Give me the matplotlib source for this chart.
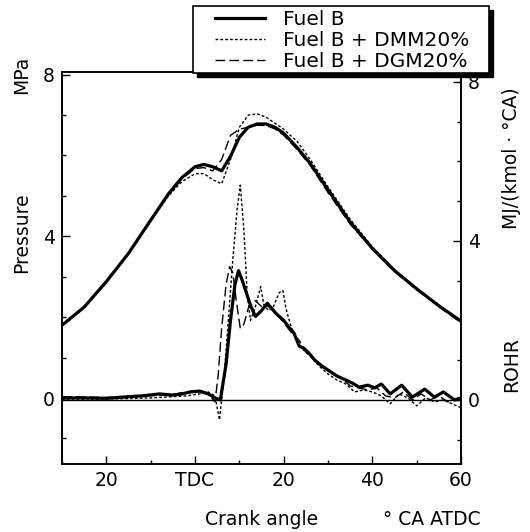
import matplotlib
matplotlib.use("Agg")
import matplotlib.pyplot as plt
from matplotlib.patches import Rectangle
from matplotlib.ticker import FixedLocator, MultipleLocator

plt.rcParams['font.family'] = ['DejaVu Sans']

# Cylinder pressure (MPa) vs crank angle (deg ATDC)
p_angle = [-30, -25, -20, -15, -10, -6, -3, 0, 2, 4, 6, 8, 10, 12, 14, 16, 18, 20,
           23, 26, 30, 35, 40, 45, 50, 55, 60]
p_fuel_b = [1.8, 2.25, 2.88, 3.58, 4.4, 5.05, 5.45, 5.72, 5.78, 5.72, 5.62, 5.98, 6.45,
            6.7, 6.78, 6.78, 6.7, 6.55, 6.2, 5.8, 5.15, 4.35, 3.7, 3.15, 2.7, 2.28, 1.9]
p_dmm = [1.8, 2.25, 2.88, 3.58, 4.38, 5.0, 5.35, 5.55, 5.55, 5.4, 5.3, 5.9, 6.7,
         7.0, 7.03, 6.95, 6.8, 6.65, 6.35, 5.9, 5.22, 4.42, 3.74, 3.17, 2.72, 2.3, 1.88]
p_dgm = [1.8, 2.25, 2.88, 3.58, 4.4, 5.03, 5.42, 5.68, 5.7, 5.62, 5.9, 6.5, 6.65,
         6.7, 6.75, 6.74, 6.66, 6.5, 6.15, 5.75, 5.08, 4.3, 3.68, 3.13, 2.68, 2.26, 1.86]

# Rate of heat release, MJ/(kmol deg CA)
r_angle_b = [-30, -25, -20, -15, -12, -8, -5, -3, -1, 1, 3, 4.5, 5.7, 7, 8, 9, 9.8, 10.5,
             11.4, 12.5, 13.6, 14.8, 16.3, 17.3, 18.2, 20, 21, 22.3, 23.5, 24.5, 25.5, 27,
             28.4, 30, 32, 34, 35.5, 37, 39, 40.5, 42, 44, 46.6, 49, 51.8, 54, 56, 58.5, 60]
r_fuel_b = [0.05, 0.05, 0.04, 0.08, 0.1, 0.15, 0.12, 0.15, 0.2, 0.22, 0.15, 0.05, 0.0,
            0.9, 2.0, 2.9, 3.25, 3.05, 2.75, 2.38, 2.1, 2.22, 2.43, 2.3, 2.18, 2.0, 1.85,
            1.68, 1.35, 1.3, 1.2, 1.0, 0.87, 0.75, 0.6, 0.5, 0.42, 0.32, 0.37, 0.3, 0.4,
            0.15, 0.37, 0.07, 0.27, 0.07, 0.2, 0.0, 0.05]

r_angle_dmm = [-30, -20, -10, -5, -2, 1, 3, 4.5, 5.5, 6.5, 7.5, 8.5, 9.5, 10.2, 11, 11.8,
               12.5, 13.5, 14.8, 15.5, 16.5, 17.5, 19, 19.8, 20.5, 21.5, 22.5, 24, 26, 28,
               30, 32, 34, 36, 38, 40, 42, 44, 46, 48, 50, 52, 54, 56, 58, 60]
r_dmm = [0.02, 0.02, 0.05, 0.08, 0.1, 0.15, 0.2, 0.1, -0.5, 0.5, 2.0, 3.5, 4.8, 5.4, 4.3,
         2.6, 2.0, 2.3, 2.85, 2.4, 2.25, 2.3, 2.7, 2.75, 2.3, 1.9, 1.6, 1.3, 1.1, 0.85,
         0.65, 0.5, 0.4, 0.2, 0.25, 0.2, 0.1, -0.1, 0.15, 0.05, -0.15, 0.05, -0.05, 0.0,
         -0.1, -0.2]

r_angle_dgm = [-30, -20, -12, -6, -2, 1, 3, 4.5, 5.2, 6, 7, 7.8, 8.5, 9.3, 10.2, 11, 12,
               13.5, 15, 16.5, 18, 20, 22, 23.5, 25, 27, 29, 31, 33, 35, 37, 39, 41, 43,
               45, 47, 49, 51, 53, 55, 57, 60]
r_dgm = [0.08, 0.06, 0.1, 0.12, 0.2, 0.25, 0.15, -0.05, 0.6, 1.8, 2.9, 3.35, 3.2, 2.5,
         1.8, 1.9, 2.3, 2.5, 2.35, 2.35, 2.2, 1.95, 1.65, 1.5, 1.2, 1.0, 0.8, 0.65, 0.55,
         0.35, 0.3, 0.25, 0.3, 0.1, 0.05, 0.2, 0.0, 0.15, 0.0, 0.1, -0.05, 0.05]

labels = ["Fuel B", "Fuel B + DMM20%", "Fuel B + DGM20%"]
x_ticks = [-20, 0, 20, 40, 60]
x_ticklabels = ["20", "TDC", "20", "40", "60"]

fs = 13.5
fig = plt.figure(figsize=(5.3, 5.32), dpi=100)
ax = fig.add_axes([0.117, 0.128, 0.753, 0.737])
ax2 = ax.twinx()

solid = dict(color='black', lw=2.3, ls='-')
dotted = dict(color='black', lw=1.0, ls=(0, (2, 1.5)))
dashed = dict(color='black', lw=1.0, ls=(0, (7, 3)))

h1, = ax.plot(p_angle, p_fuel_b, **solid)
h2, = ax.plot(p_angle, p_dmm, **dotted)
h3, = ax.plot(p_angle, p_dgm, **dashed)
ax2.plot(r_angle_b, r_fuel_b, **solid)
ax2.plot(r_angle_dmm, r_dmm, **dotted)
ax2.plot(r_angle_dgm, r_dgm, **dashed)
ax2.axhline(0, color='black', lw=1.0)

ax.set_xlim(-30, 60)
ax.set_ylim(-1.63, 8.07)
ax.xaxis.set_major_locator(FixedLocator(x_ticks))
ax.set_xticklabels(x_ticklabels)
ax.xaxis.set_minor_locator(MultipleLocator(10))
ax.yaxis.set_major_locator(FixedLocator([0, 4, 8]))
ax.yaxis.set_minor_locator(MultipleLocator(1))

ax2.set_ylim(-1.61, 8.25)
ax2.yaxis.set_major_locator(FixedLocator([0, 4, 8]))
ax2.yaxis.set_minor_locator(MultipleLocator(1))

for a in (ax, ax2):
    a.tick_params(which='both', direction='in', labelsize=fs, width=1)
    a.tick_params(which='major', length=6, pad=5)
    a.tick_params(which='minor', length=3)
    for s in a.spines.values():
        s.set_linewidth(1.2)

fig.text(0.0415, 0.859, "MPa", rotation=90, ha='center', va='center', fontsize=fs)
fig.text(0.0415, 0.562, "Pressure", rotation=90, ha='center', va='center', fontsize=fs)
fig.text(0.966, 0.702, "MJ/(kmol · °CA)", rotation=90, ha='center', va='center', fontsize=fs)
fig.text(0.966, 0.314, "ROHR", rotation=90, ha='center', va='center', fontsize=fs)
fig.text(0.494, 0.023, "Crank angle", ha='center', va='center', fontsize=fs)
fig.text(0.722, 0.023, "° CA ATDC", ha='left', va='center', fontsize=fs)

# legend box with heavy drop shadow, drawn in figure coordinates
box = (0.3642, 0.8628, 0.5585, 0.1259)
fig.patches.append(Rectangle((box[0] + 0.0075, box[1] - 0.0075), box[2], box[3],
                             transform=fig.transFigure, facecolor='black',
                             edgecolor='black', zorder=8))
fig.patches.append(Rectangle(box[:2], box[2], box[3], transform=fig.transFigure,
                             facecolor='white', edgecolor='black', lw=1.2, zorder=9))

leg = fig.legend([h1, h2, h3], labels, loc='upper left', bbox_to_anchor=(0.405, 0.981),
                 borderaxespad=0, borderpad=0, fontsize=14.5, frameon=False,
                 handlelength=2.5, labelspacing=0.1, handletextpad=0.9)
leg.set_zorder(10)

fig.savefig("out.png", dpi=100)
